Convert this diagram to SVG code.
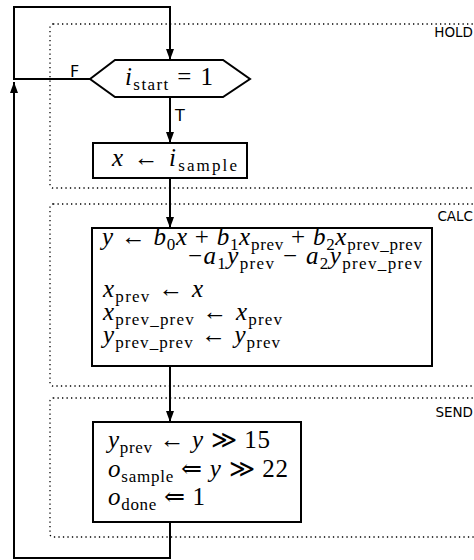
<svg xmlns="http://www.w3.org/2000/svg" width="474" height="560" viewBox="0 0 474 560">
  <defs>
    <marker id="arrow" viewBox="0 0 11 8" refX="11" refY="4" markerWidth="11" markerHeight="8" markerUnits="userSpaceOnUse" orient="auto">
      <path d="M0,0 L11,4 L0,8 z" fill="#000"/>
    </marker>
    <style>
      .region { fill: none; stroke: #000; stroke-width: 1.3; stroke-dasharray: 1.3 3.2; }
      .region-label { font-family: "DejaVu Sans", sans-serif; font-size: 13.5px; fill: #000; text-anchor: end; }
      .node { fill: #fff; stroke: #000; stroke-width: 2; }
      .edge { fill: none; stroke: #000; stroke-width: 2; }
      .edge-label { font-family: "DejaVu Sans", sans-serif; font-size: 16px; fill: #000; }
      .m { font-family: "Liberation Serif", "DejaVu Serif", serif; font-size: 25px; fill: #000; }
      .i { font-style: italic; }
      .s { font-size: 17px; font-style: normal; }
    </style>
  </defs>

  <!-- pipeline stages -->
  <g id="stage-hold">
    <rect class="region" x="50" y="24" width="440" height="164" rx="3"/>
    <text class="region-label" x="473" y="37">HOLD</text>
  </g>
  <g id="stage-calc">
    <rect class="region" x="50" y="204" width="440" height="182" rx="3"/>
    <text class="region-label" x="473" y="221">CALC</text>
  </g>
  <g id="stage-send">
    <rect class="region" x="50" y="398" width="440" height="139" rx="3"/>
    <text class="region-label" x="473" y="417">SEND</text>
  </g>

  <!-- connectors -->
  <g id="connectors">
    <path class="edge" d="M90,79 H14 V7 H170 V60" marker-end="url(#arrow)"/>
    <path class="edge" d="M170,97 V143" marker-end="url(#arrow)"/>
    <path class="edge" d="M170,178 V228" marker-end="url(#arrow)"/>
    <path class="edge" d="M170,366 V422" marker-end="url(#arrow)"/>
    <path class="edge" d="M170,522 V558 H14 V82" marker-end="url(#arrow)"/>
    <text class="edge-label" x="70" y="77">F</text>
    <text class="edge-label" x="175" y="121">T</text>
  </g>

  <!-- decision: start condition -->
  <g id="check-start">
    <polygon class="node" points="90,79 115,60 223,60 250,79 223,97 115,97"/>
    <text class="m" x="125" y="85" textLength="88" lengthAdjust="spacing"><tspan class="i">i</tspan><tspan class="s" dy="5">start</tspan><tspan dy="-5"> = 1</tspan></text>
  </g>

  <!-- read input sample -->
  <g id="read-sample">
    <rect class="node" x="93" y="143" width="154" height="35"/>
    <text class="m" x="112" y="166" textLength="125" lengthAdjust="spacing"><tspan class="i">x</tspan> ← <tspan class="i">i</tspan><tspan class="s" dy="5">sample</tspan></text>
  </g>

  <!-- biquad filter update -->
  <g id="calc-filter">
    <rect class="node" x="92" y="228" width="340" height="138"/>
    <text class="m" x="102" y="245" textLength="320" lengthAdjust="spacing"><tspan class="i">y</tspan> ← <tspan class="i">b</tspan><tspan class="s" dy="5">0</tspan><tspan class="i" dy="-5">x</tspan> + <tspan class="i">b</tspan><tspan class="s" dy="5">1</tspan><tspan class="i" dy="-5">x</tspan><tspan class="s" dy="5">prev</tspan><tspan dy="-5"> + </tspan><tspan class="i">b</tspan><tspan class="s" dy="5">2</tspan><tspan class="i" dy="-5">x</tspan><tspan class="s" dy="5">prev_prev</tspan></text>
    <text class="m" x="188" y="264" textLength="234" lengthAdjust="spacing">−<tspan class="i">a</tspan><tspan class="s" dy="5">1</tspan><tspan class="i" dy="-5">y</tspan><tspan class="s" dy="5">prev</tspan><tspan dy="-5"> − </tspan><tspan class="i">a</tspan><tspan class="s" dy="5">2</tspan><tspan class="i" dy="-5">y</tspan><tspan class="s" dy="5">prev_prev</tspan></text>
    <text class="m" x="103" y="297" textLength="100" lengthAdjust="spacing"><tspan class="i">x</tspan><tspan class="s" dy="5">prev</tspan><tspan dy="-5"> ← </tspan><tspan class="i">x</tspan></text>
    <text class="m" x="103" y="320" textLength="179" lengthAdjust="spacing"><tspan class="i">x</tspan><tspan class="s" dy="5">prev_prev</tspan><tspan dy="-5"> ← </tspan><tspan class="i">x</tspan><tspan class="s" dy="5">prev</tspan></text>
    <text class="m" x="103" y="343" textLength="177" lengthAdjust="spacing"><tspan class="i">y</tspan><tspan class="s" dy="5">prev_prev</tspan><tspan dy="-5"> ← </tspan><tspan class="i">y</tspan><tspan class="s" dy="5">prev</tspan></text>
  </g>

  <!-- write output -->
  <g id="send-output">
    <rect class="node" x="93" y="422" width="208" height="100"/>
    <text class="m" x="108" y="448" textLength="162" lengthAdjust="spacing"><tspan class="i">y</tspan><tspan class="s" dy="5">prev</tspan><tspan dy="-5"> ← </tspan><tspan class="i">y</tspan> ≫ 15</text>
    <text class="m" x="108" y="477" textLength="180" lengthAdjust="spacing"><tspan class="i">o</tspan><tspan class="s" dy="5">sample</tspan><tspan dy="-5"> ⇐ </tspan><tspan class="i">y</tspan> ≫ 22</text>
    <text class="m" x="108" y="505" textLength="97" lengthAdjust="spacing"><tspan class="i">o</tspan><tspan class="s" dy="5">done</tspan><tspan dy="-5"> ⇐ 1</tspan></text>
  </g>
</svg>
